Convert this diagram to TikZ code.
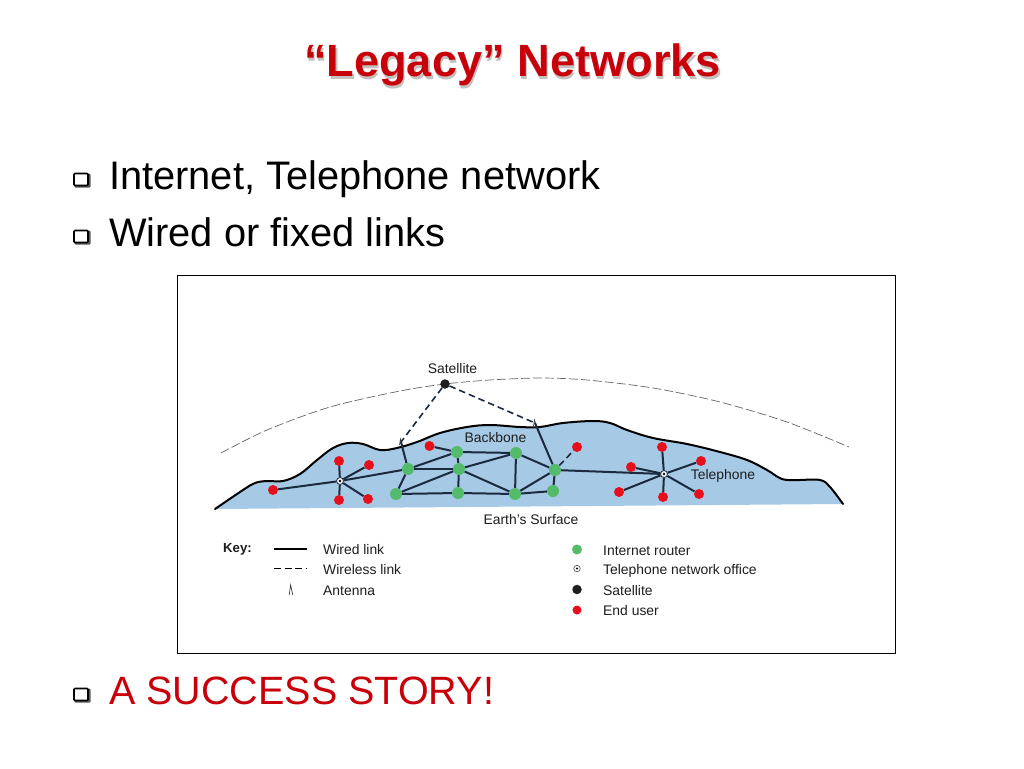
\documentclass[tikz,border=0pt]{standalone}
\usepackage{fontspec}
\setmainfont{Liberation Sans}
\usetikzlibrary{backgrounds}
\definecolor{titlered}{HTML}{C8000A}
\definecolor{shadowgray}{HTML}{C4C0C0}
\definecolor{earth}{HTML}{A6C9E6}
\definecolor{wire}{HTML}{1B2A3E}
\definecolor{routerc}{HTML}{55BB6C}
\definecolor{userc}{HTML}{E60F1C}
\definecolor{labelc}{HTML}{1E1E1E}
\tikzset{
  dot/.style={circle,inner sep=0pt,minimum size=#1,draw=none},
  router/.style={dot=12pt,fill=routerc},
  enduser/.style={dot=10pt,fill=userc},
  office/.style={circle,inner sep=0pt,minimum size=7pt,fill=white,draw=wire,line width=.8pt,path picture={\fill[black] (path picture bounding box.center) circle (1.3pt);}},
  satdot/.style={dot=9.5pt,fill=black!88},
  wired/.style={draw=wire,line width=2pt},
  wireless/.style={draw=wire,line width=1.6pt,dash pattern=on 6.5pt off 4pt},
  lab/.style={inner sep=0pt,font=\fontsize{13.9}{16}\selectfont,text=labelc},
  keylab/.style={lab,anchor=base west},
  body/.style={inner sep=0pt,anchor=base west,font=\fontsize{39.8}{46}\selectfont},
  titletext/.style={inner sep=0pt,anchor=base,font=\fontsize{45.2}{50}\selectfont\bfseries},
  bulletbox/.style={inner sep=0pt,minimum width=14pt,minimum height=12pt,rounded corners=1pt,fill=white,draw=black,line width=1.6pt},
  bulletshade/.style={inner sep=0pt,minimum width=16pt,minimum height=14pt,rounded corners=1pt,fill=black!65,draw=none},
  antenna/.style={draw=black!75,line width=.7pt},
}
\begin{document}
\begin{tikzpicture}[x=1pt,y=-1pt]
\useasboundingbox (0,0) rectangle (1024,768);
\fill[white] (0,0) rectangle (1024,768);
% title
\node[titletext,text=shadowgray] at (514,79.5) {“Legacy” Networks};
\node[titletext,text=titlered] (title) at (512.5,77) {“Legacy” Networks};
% bullets
\foreach \n/\y in {a/179.5,b/236.5,c/694.5}{
  \node[bulletshade] (shade\n) at (82.5,\y+1) {};
  \node[bulletbox] (bul\n) at (81,\y) {};
}
\node[body] (l1) at (109,189) {Internet, Telephone network};
\node[body] (l2) at (109,246) {Wired or fixed links};
\node[body,text=titlered,font=\fontsize{39.5}{46}\selectfont] (l3) at (109,704.5) {A SUCCESS STORY!};
% frame
\node[draw=black,line width=.7pt,inner sep=0pt,minimum width=718pt,minimum height=378pt,fill=white] (frame) at (536.7,464.7) {};
% earth
\path[fill=earth] plot[smooth,tension=.6] coordinates {(215,509)(243,490)(255,483)(267,481)(283,481)(300,474)(317,460)(333,448)(348,443)(363,444)(380,450)(397,448)(417,442)(440,433)(467,427)(490,425)(520,427)(540,427)(563,423)(593,421)(610,423)(627,430)(653,438)(687,444)(720,452)(747,460)(767,470)(782,479)(797,480)(820,480)(830,487)(843,504)} -- cycle;
\draw[black,line width=2pt,line cap=round] plot[smooth,tension=.6] coordinates {(215,509)(243,490)(255,483)(267,481)(283,481)(300,474)(317,460)(333,448)(348,443)(363,444)(380,450)(397,448)(417,442)(440,433)(467,427)(490,425)(520,427)(540,427)(563,423)(593,421)(610,423)(627,430)(653,438)(687,444)(720,452)(747,460)(767,470)(782,479)(797,480)(820,480)(830,487)(843,504)};
% orbit
\draw[black!60,line width=.7pt,dash pattern=on 9pt off 3pt] plot[smooth] coordinates {(221,453)(267,430)(330,407)(400,391)(445,384)(490,380)(540,378)(587,380)(653,388)(720,402)(787,422)(849,447)};
% nodes
\node[satdot] (sat) at (445,384) {};
\coordinate (antl) at (401,442);
\coordinate (antr) at (535,423);
\node[router] (r1) at (408,469) {};
\node[router] (r2) at (457,452) {};
\node[router] (r3) at (459,469) {};
\node[router] (r4) at (516,453) {};
\node[router] (r5) at (555,470) {};
\node[router] (r6) at (396,494) {};
\node[router] (r7) at (458,493) {};
\node[router] (r8) at (515,494) {};
\node[router] (r9) at (553,491) {};
\node[enduser] (eb1) at (429.5,446) {};
\node[enduser] (eb2) at (577,447) {};
\node[office] (ol) at (340,481) {};
\node[enduser] (la) at (339,461) {};
\node[enduser] (lb) at (369,465) {};
\node[enduser] (lc) at (273,490) {};
\node[enduser] (ld) at (339,500) {};
\node[enduser] (le) at (368,499) {};
\node[office] (or) at (664,474) {};
\node[enduser] (ra) at (662,447) {};
\node[enduser] (rb) at (701,461) {};
\node[enduser] (rc) at (631,467) {};
\node[enduser] (rd) at (619,492) {};
\node[enduser] (re) at (663,497) {};
\node[enduser] (rf) at (699,494) {};
% connectors
\draw[antenna] (antl) ++(-1.5,3) -- ++(1,-6) -- ++(1.5,5);
\draw[antenna] (antr) ++(-1.5,3) -- ++(1,-6) -- ++(1.5,5);
\draw[wireless] (sat) -- (antl);
\draw[wireless] (sat) -- (antr);
\draw[wireless] (r5) -- (eb2);
\foreach \a/\b in {antl/r1,antr/r5,ol/r1,r1/r2,r1/r3,r1/r6,r2/r3,r2/r4,r2/eb1,r3/r4,r3/r6,r3/r7,r3/r8,r4/r5,r4/r8,r5/r8,r5/r9,r5/or,r6/r7,r7/r8,r8/r9,ol/la,ol/lb,ol/lc,ol/ld,ol/le,or/ra,or/rb,or/rc,or/rd,or/re,or/rf}{
  \draw[wired] (\a) -- (\b);
}
% labels
\node[lab] (tsat) at (452.5,369) {Satellite};
\node[lab] (tbb) at (495.5,438) {Backbone};
\node[lab] (ttel) at (723,476) {Telephone};
\node[lab] (tearth) at (531,520) {Earth's Surface};
% key
\node[keylab,font=\fontsize{13.2}{15}\selectfont\bfseries] (tkey) at (223,552) {Key:};
\coordinate (k1a) at (274,549); \coordinate (k1b) at (307,549);
\coordinate (k2a) at (274,568.5); \coordinate (k2b) at (307,568.5);
\draw[black,line width=2.6pt] (k1a) -- (k1b);
\draw[black,line width=1.6pt,dash pattern=on 7pt off 3.5pt] (k2a) -- (k2b);
\coordinate (k3) at (291,590);
\draw[antenna] (k3) ++(-1.8,5) -- ++(1.4,-10) -- ++(2.2,10);
\node[keylab] (twired) at (323,554) {Wired link};
\node[keylab] (twless) at (323,574) {Wireless link};
\node[keylab] (tant) at (323,595) {Antenna};
\node[router,minimum size=10pt] (kr) at (577,549.5) {};
\node[circle,inner sep=0pt,minimum size=6.5pt,fill=white,draw=black!70,line width=.6pt,path picture={\fill[black] (path picture bounding box.center) circle (1.1pt);}] (ko) at (577,568.5) {};
\node[satdot] (ks) at (577,589.5) {};
\node[enduser,minimum size=9pt] (ku) at (577,610) {};
\node[keylab] (tkr) at (603,555) {Internet router};
\node[keylab] (tko) at (603,574) {Telephone network office};
\node[keylab] (tks) at (603,595) {Satellite};
\node[keylab] (tku) at (603,615) {End user};
\end{tikzpicture}
\end{document}
